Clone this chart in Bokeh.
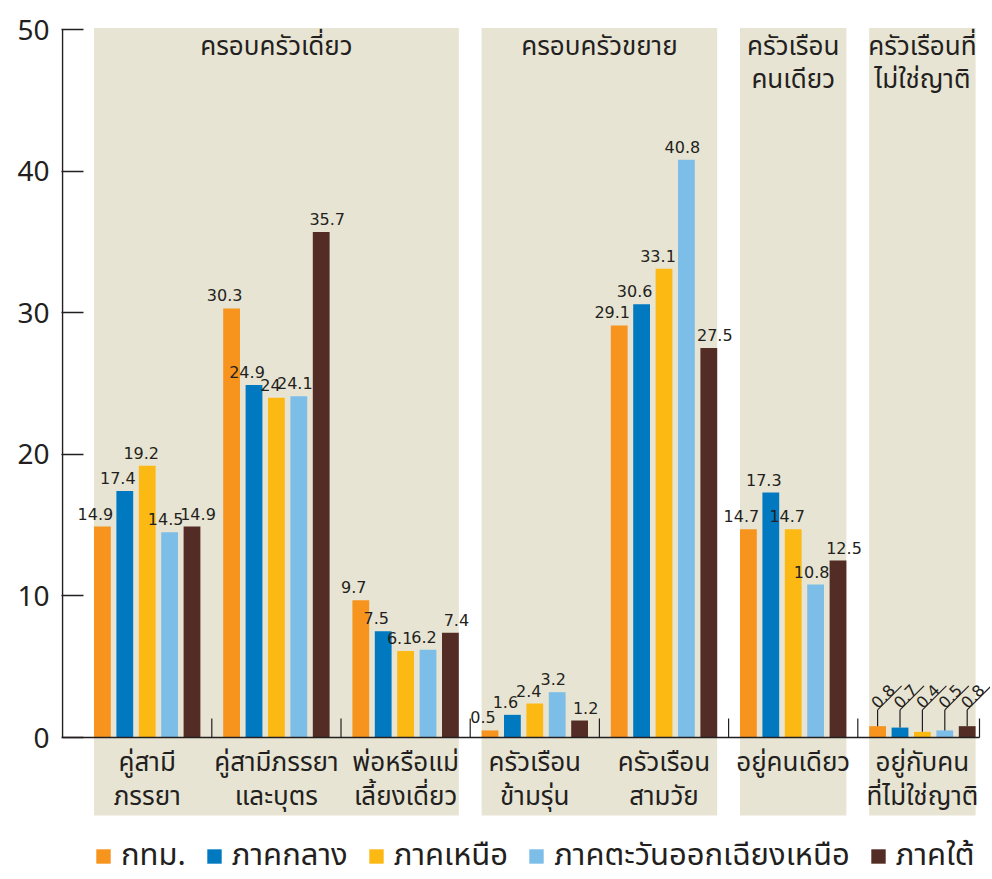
import math
from bokeh.plotting import figure
from bokeh.models import Range1d, FixedTicker, Legend, LegendItem, ColumnDataSource
from bokeh.core.properties import value
from bokeh.embed import file_html
from bokeh.resources import INLINE

# ---------------- data ----------------
categories = ["คู่สามี\nภรรยา", "คู่สามีภรรยา\nและบุตร", "พ่อหรือแม่\nเลี้ยงเดี่ยว",
              "ครัวเรือน\nข้ามรุ่น", "ครัวเรือน\nสามวัย", "อยู่คนเดียว",
              "อยู่กับคน\nที่ไม่ใช่ญาติ"]
series_names = ["กทม.", "ภาคกลาง", "ภาคเหนือ", "ภาคตะวันออกเฉียงเหนือ", "ภาคใต้"]
bangkok = [14.9, 30.3, 9.7, 0.5, 29.1, 14.7, 0.8]
central = [17.4, 24.9, 7.5, 1.6, 30.6, 17.3, 0.7]
north = [19.2, 24.0, 6.1, 2.4, 33.1, 14.7, 0.4]
northeast = [14.5, 24.1, 6.2, 3.2, 40.8, 10.8, 0.5]
south = [14.9, 35.7, 7.4, 1.2, 27.5, 12.5, 0.8]
series_values = [bangkok, central, north, northeast, south]
group_titles = ["ครอบครัวเดี่ยว", "ครอบครัวขยาย", "ครัวเรือน\nคนเดียว", "ครัวเรือนที่\nไม่ใช่ญาติ"]
group_first = [0, 3, 5, 6]
group_last = [2, 4, 5, 6]
y_ticks = [0, 10, 20, 30, 40, 50]
rotated_label_category = 6

# ---------------- style ----------------
colors = ["#F7941D", "#0079C1", "#FDB913", "#7DBEE8", "#532D25"]
beige = "#E7E4D3"
ink = "#231F20"
THAI_NAME = "Noto Sans Thai"
THAI = value(THAI_NAME)
NUM = value("DejaVu Sans")

PX_X = 129.2      # px per category
PX_Y = 14.16      # px per value unit
BORDER_L = 61
FRAME_W = 990 - BORDER_L
FRAME_H = 879
x_start = (BORDER_L - 146.7) / PX_X
x_end = x_start + FRAME_W / PX_X
y_start = -(FRAME_H - 737) / PX_Y
y_end = y_start + FRAME_H / PX_Y

bar_step = 22.4 / PX_X
bar_w = 16.8 / PX_X
label_dx_px = [-7, -7, -6, -4, 6]

p = figure(width=BORDER_L + FRAME_W, height=FRAME_H, output_backend="svg",
           toolbar_location=None, x_range=Range1d(x_start, x_end),
           y_range=Range1d(y_start, y_end), min_border_left=BORDER_L,
           min_border_right=0, min_border_top=0, min_border_bottom=0)
p.outline_line_color = None
p.xgrid.visible = False
p.ygrid.visible = False
p.xaxis.visible = False
p.background_fill_color = "white"

ya = p.yaxis[0]
ya.ticker = FixedTicker(ticks=y_ticks)
ya.axis_line_color = None
ya.major_tick_in = 22
ya.major_tick_out = 0
ya.major_tick_line_color = ink
ya.major_tick_line_width = 1.5
ya.minor_tick_line_color = None
ya.major_label_text_font = "Noto Sans"
ya.major_label_text_font_size = "28px"
ya.major_label_text_color = ink
ya.major_label_standoff = 12

# beige group panels
half = 2 * bar_step + bar_w / 2
p.quad(left=[f - half for f in group_first], right=[l + half for l in group_last],
       top=50.1, bottom=-5.5, fill_color=beige, line_color=None)

# group titles
p.text(x=[(f + l) / 2 for f, l in zip(group_first, group_last)],
       y=[y_end - 26 / PX_Y] * len(group_titles), text=group_titles,
       text_font=THAI, text_font_size="26px", text_color=ink,
       text_align="center", text_baseline="top", text_line_height=0.84)

# bars
items = []
for s, (name, vals) in enumerate(zip(series_names, series_values)):
    xs = [i + (s - 2) * bar_step for i in range(len(categories))]
    src = ColumnDataSource(dict(x=xs, top=vals))
    r = p.vbar(x="x", top="top", width=bar_w, bottom=0, source=src,
               fill_color=colors[s], line_color=None)
    items.append(LegendItem(label=name, renderers=[r]))
    # value labels
    lx, ly, lt = [], [], []
    for i, v in enumerate(vals):
        if i == rotated_label_category:
            continue
        lx.append(xs[i] + label_dx_px[s] / PX_X)
        ly.append(v + 13 / PX_Y)
        lt.append(f"{v:g}")
    p.text(x=lx, y=ly, text=lt, text_font=NUM, text_font_size="16px",
           text_color=ink, text_align="center", text_baseline="middle")
    # rotated labels with leader lines for tiny values
    i = rotated_label_category
    v = vals[i]
    elbow = 1.95
    p.segment(x0=[xs[i]], y0=[v], x1=[xs[i]], y1=[elbow], line_color=ink, line_width=1.2)
    p.segment(x0=[xs[i]], y0=[elbow], x1=[xs[i] + 24 / PX_X], y1=[elbow + 24 / PX_Y],
              line_color=ink, line_width=1.2)
    p.text(x=[xs[i] + 9.5 / PX_X], y=[elbow + 9.5 / PX_Y], text=[f"{v:g}"],
           angle=math.pi / 4, text_font=NUM, text_font_size="16px", text_color=ink,
           text_align="center", text_baseline="bottom")

# axes lines
x_axis_left = (62 - 146.7) / PX_X
x_axis_right = (979 - 146.7) / PX_X
p.segment(x0=[x_axis_left], y0=[0], x1=[x_axis_left], y1=[50], line_color=ink, line_width=1.5)
p.segment(x0=[x_axis_left], y0=[0], x1=[x_axis_right], y1=[0], line_color=ink, line_width=1.5)
tick_x = [i + 0.5 for i in range(len(categories) - 1)] + [x_axis_right]
p.segment(x0=tick_x, y0=[0] * len(tick_x), x1=tick_x, y1=[19 / PX_Y] * len(tick_x),
          line_color=ink, line_width=1.2)

# category labels
p.text(x=list(range(len(categories))), y=[-5 / PX_Y] * len(categories), text=categories,
       text_font=THAI, text_font_size="26px", text_color=ink, text_align="center",
       text_baseline="top", text_line_height=0.86)

legend = Legend(items=items, orientation="horizontal", location=(33, 0),
                glyph_width=18, glyph_height=18, label_standoff=9, spacing=19,
                padding=0, margin=0, border_line_color=None, background_fill_alpha=0,
                label_text_font=THAI_NAME, label_text_font_size="31px",
                label_text_color=ink, label_height=18)
p.add_layout(legend)

open("out.html", "w").write(file_html(p, INLINE))
